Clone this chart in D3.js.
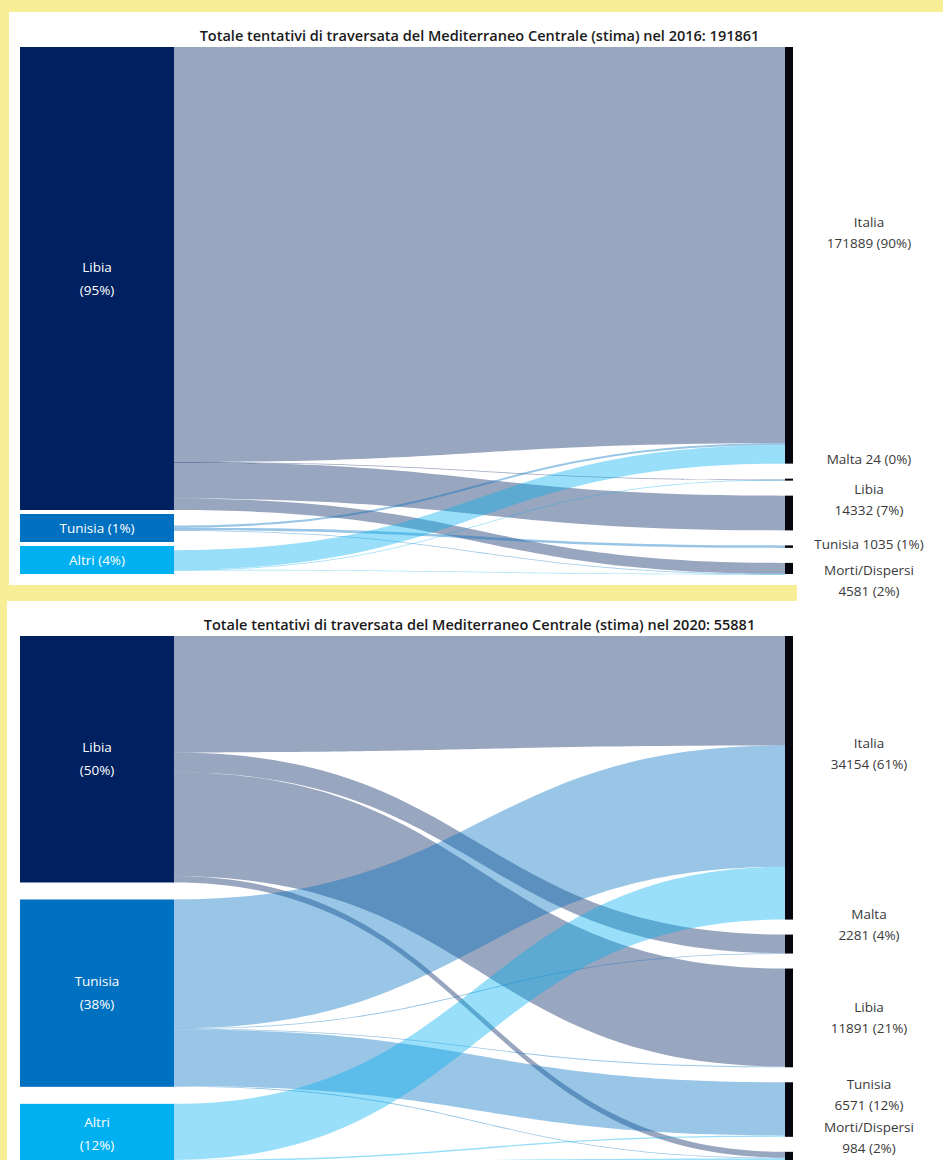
<!DOCTYPE html>
<html>
<head>
<meta charset="utf-8">
<script src="https://cdn.jsdelivr.net/npm/d3@7"></script>
<style>
  body { margin: 0; background: #f7ee96; }
  svg { display: block; }
  text { font-family: 'Open Sans', Lato, sans-serif; }
</style>
</head>
<body>
<script>
const origins = ['Libia', 'Tunisia', 'Altri']
const destinations = ['Italia', 'Malta', 'Libia', 'Tunisia', 'Morti/Dispersi']
const years = [2016, 2020]

// rows = origin, columns = destination
const flows2016 = [
  [163420, 20, 14332, 0, 4500],
  [800, 0, 0, 1035, 50],
  [7669, 4, 0, 0, 31]
]
const flows2020 = [
  [13200, 2240, 11800, 0, 700],
  [14600, 41, 91, 6400, 103],
  [6354, 0, 0, 171, 181]
]

const originColors = ['#002060', '#0070c0', '#00b0f0']

const W = 943, H = 1160
const X_LEFT = 20, LEFT_W = 154
const X_RIGHT = 785, RIGHT_W = 8

// layout of each panel (pixels only)
const panels = [
  { year: years[0], flows: flows2016, top: 47, leftBottom: 574, rightBottom: 574,
    leftPad: 4, rightPad: 15, leftMin: 28, rightMin: 2,
    labelShift: [-23, -20, -13, -2, 12] },
  { year: years[1], flows: flows2020, top: 636, leftBottom: 1163, rightBottom: 1160,
    leftPad: 17, rightPad: 15, leftMin: 28, rightMin: 2,
    labelShift: [-24, -19, 0, -15, -18] }
]

const svg = d3.select('body').append('svg')
  .attr('width', W)
  .attr('height', H)

// background: yellow frame, white panels
svg.append('rect').attr('width', W).attr('height', H).attr('fill', '#f7ee96')
svg.append('rect').attr('x', 9).attr('y', 12).attr('width', W - 9).attr('height', 573).attr('fill', '#fff')
svg.append('rect').attr('x', 7).attr('y', 601).attr('width', W - 7).attr('height', H - 601).attr('fill', '#fff')
svg.append('rect').attr('x', 797).attr('y', 12).attr('width', W - 797).attr('height', H - 12).attr('fill', '#fff')

// stack values in a column, small ones get a minimum height
function stack(values, top, bottom, pad, minH) {
  const avail = bottom - top - pad * (values.length - 1)
  const total = d3.sum(values)
  let k = avail / total
  for (let it = 0; it < 20; it++) {
    const small = values.filter(v => v * k < minH)
    const rest = d3.sum(values.filter(v => v * k >= minH))
    k = (avail - small.length * minH) / rest
  }
  const scale = d3.scaleLinear().domain([0, total]).range([0, total * k])
  let y = top
  const nodes = values.map(v => {
    const h = Math.max(minH, scale(v))
    const n = { value: v, y0: y, y1: y + h }
    y += h + pad
    return n
  })
  return { nodes, scale }
}

function linkPath(l) {
  const xm = (X_LEFT + LEFT_W + X_RIGHT) / 2
  const x0 = X_LEFT + LEFT_W, x1 = X_RIGHT
  const p = d3.path()
  p.moveTo(x0, l.sy0)
  p.bezierCurveTo(xm, l.sy0, xm, l.ty0, x1, l.ty0)
  p.lineTo(x1, l.ty1)
  p.bezierCurveTo(xm, l.ty1, xm, l.sy1, x0, l.sy1)
  p.closePath()
  return p.toString()
}

panels.forEach(cfg => {
  const { flows } = cfg
  const outTotals = flows.map(r => d3.sum(r))
  const inTotals = destinations.map((d, j) => d3.sum(flows, r => r[j]))
  const grand = d3.sum(outTotals)

  const L = stack(outTotals, cfg.top, cfg.leftBottom, cfg.leftPad, cfg.leftMin)
  const R = stack(inTotals, cfg.top, cfg.rightBottom, cfg.rightPad, cfg.rightMin)

  // links
  const links = []
  flows.forEach((row, i) => row.forEach((v, j) => {
    if (v > 0) links.push({ source: i, target: j, value: v })
  }))

  // source offsets (ordered by target), centred inside the node box
  L.nodes.forEach((n, i) => {
    const own = links.filter(l => l.source === i)
    const used = d3.sum(own, l => L.scale(l.value))
    let y = n.y0 + ((n.y1 - n.y0) - used) / 2
    own.forEach(l => {
      const h = Math.max(0.8, L.scale(l.value))
      l.sy0 = y; l.sy1 = y + h; y += L.scale(l.value)
    })
  })
  // target offsets (ordered by source)
  R.nodes.forEach((n, j) => {
    const own = links.filter(l => l.target === j)
    const used = d3.sum(own, l => R.scale(l.value))
    let y = n.y0 + ((n.y1 - n.y0) - used) / 2
    own.forEach(l => {
      const h = Math.max(0.8, R.scale(l.value))
      l.ty0 = y; l.ty1 = y + h; y += R.scale(l.value)
    })
  })

  const g = svg.append('g')

  g.append('text')
    .attr('x', (X_LEFT + LEFT_W + X_RIGHT) / 2)
    .attr('y', cfg.top - 11)
    .attr('dy', '0.35em')
    .attr('text-anchor', 'middle')
    .attr('font-size', 14.5)
    .attr('font-weight', 600)
    .attr('fill', '#1a1a1a')
    .text(`Totale tentativi di traversata del Mediterraneo Centrale (stima) nel ${cfg.year}: ${grand}`)

  g.append('g').selectAll('path')
    .data(links)
    .join('path')
    .attr('d', linkPath)
    .attr('fill', d => originColors[d.source])
    .attr('fill-opacity', 0.4)

  // origin nodes
  const ln = g.append('g').selectAll('g')
    .data(L.nodes)
    .join('g')
  ln.append('rect')
    .attr('x', X_LEFT)
    .attr('y', d => d.y0)
    .attr('width', LEFT_W)
    .attr('height', d => d.y1 - d.y0)
    .attr('fill', (d, i) => originColors[i])
  ln.each(function (d, i) {
    const pct = Math.round(d.value / grand * 100)
    const cy = (d.y0 + d.y1) / 2
    const lines = (d.y1 - d.y0) < 40
      ? [`${origins[i]} (${pct}%)`]
      : [origins[i], `(${pct}%)`]
    d3.select(this).selectAll('text')
      .data(lines)
      .join('text')
      .attr('x', X_LEFT + LEFT_W / 2)
      .attr('y', (t, k) => cy + (k - (lines.length - 1) / 2) * 23)
      .attr('dy', '0.35em')
      .attr('text-anchor', 'middle')
      .attr('font-size', 13.5)
      .attr('fill', '#fff')
      .text(t => t)
  })

  // destination nodes
  const rn = g.append('g').selectAll('g')
    .data(R.nodes)
    .join('g')
  rn.append('rect')
    .attr('x', X_RIGHT)
    .attr('y', d => d.y0)
    .attr('width', RIGHT_W)
    .attr('height', d => d.y1 - d.y0)
    .attr('fill', '#06060f')
  rn.each(function (d, j) {
    const pct = Math.round(d.value / grand * 100)
    const cy = (d.y0 + d.y1) / 2 + cfg.labelShift[j]
    const lines = (d.y1 - d.y0) < 4
      ? [`${destinations[j]} ${d.value} (${pct}%)`]
      : [destinations[j], `${d.value} (${pct}%)`]
    d3.select(this).selectAll('text')
      .data(lines)
      .join('text')
      .attr('x', 869)
      .attr('y', (t, k) => cy + (k - (lines.length - 1) / 2) * 21)
      .attr('dy', '0.35em')
      .attr('text-anchor', 'middle')
      .attr('font-size', 13.5)
      .attr('fill', '#3a3a3a')
      .text(t => t)
  })
})
</script>
</body>
</html>
